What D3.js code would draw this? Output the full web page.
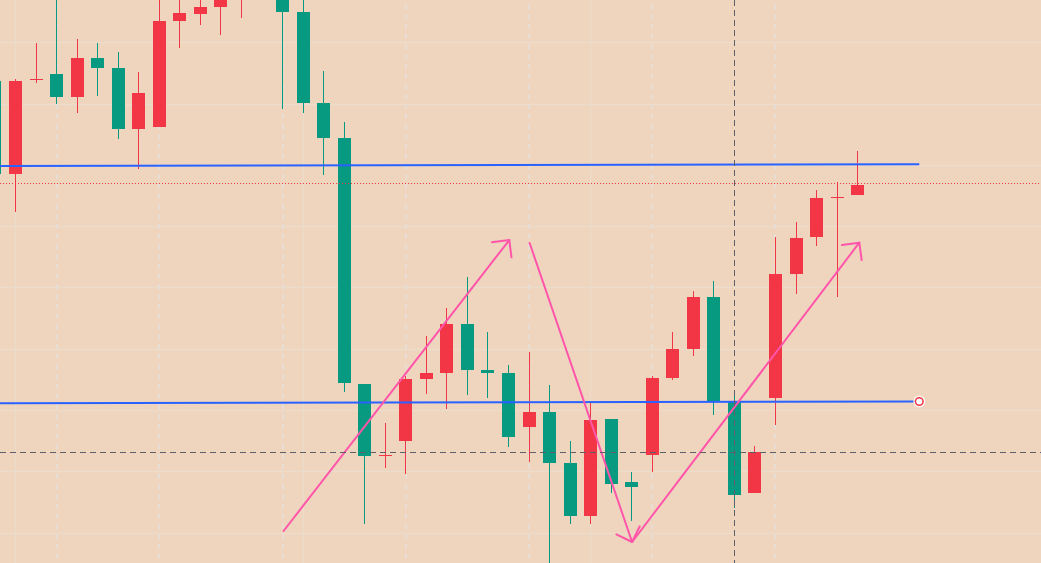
<!DOCTYPE html>
<html lang="en">
<head>
<meta charset="UTF-8">
<title>Candles with d3.js</title>
<script src="https://d3js.org/d3.v7.min.js" charset="utf-8"></script>
<style>
  body { margin: 0; background: #efd5bd; overflow: hidden; }
  svg { display: block; }
</style>
</head>
<body>
<div id="chart"></div>
<script>
// bar index of each candle (bar -1 is cut off at the left edge)
const bars = d3.range(-1, 42);
// prices (scale is inverted, like the original)
const opens  = [158.1, 167.4, 158.0, 157.4, 159.7, 155.8, 156.8, 162.9, 162.7, 152.1, 151.4, 150.7, 149.4, 148.2, 146.5, 151.2, 160.3, 163.8, 188.4, 195.6, 194.1, 187.9, 187.3, 182.4, 187.0, 187.3, 192.7, 191.2, 196.3, 201.6, 191.9, 198.2, 195.5, 187.8, 184.9, 179.7, 190.2, 199.3, 189.8, 177.4, 173.7, 169.8, 169.5];
const highs  = [167.4, 171.2, 158.3, 160.4, 161.3, 159.6, 163.9, 166.9, 162.7, 154.8, 152.5, 153.5, 151.8, 149.0, 160.9, 161.3, 167.5, 189.2, 202.4, 196.8, 197.4, 189.4, 190.9, 189.5, 189.8, 194.7, 196.2, 207.5, 202.4, 202.4, 199.3, 202.1, 197.2, 188.0, 185.6, 191.5, 200.8, 199.3, 192.5, 179.4, 174.6, 179.7, 169.5];
const lows   = [158.1, 157.9, 154.3, 149.0, 153.9, 154.3, 155.2, 157.2, 148.5, 149.0, 149.2, 148.0, 147.0, 144.5, 145.0, 149.5, 157.1, 162.2, 188.4, 192.3, 187.6, 183.6, 180.8, 177.7, 183.2, 186.5, 185.2, 188.5, 194.1, 190.3, 191.9, 197.2, 187.6, 183.2, 179.1, 178.1, 189.2, 194.6, 173.7, 172.2, 169.0, 168.2, 165.1];
const closes = [167.4, 158.1, 157.9, 159.7, 155.8, 156.8, 162.9, 159.3, 152.1, 151.3, 150.7, 149.4, 148.2, 146.0, 151.2, 160.3, 163.8, 188.3, 195.6, 195.5, 187.9, 187.3, 182.4, 187.0, 187.3, 193.7, 191.2, 196.3, 201.6, 192.0, 198.4, 198.7, 187.8, 184.9, 179.7, 190.2, 199.5, 195.2, 177.4, 173.8, 169.8, 169.7, 168.5];

// drawings, in (bar, price)
const arrows = [
  { from: [13.05, 203.1], to: [24.04, 174.0] },
  { from: [25.03, 174.3], to: [30.02, 204.2] },
  { from: [30.02, 204.2], to: [41.08, 174.27] }
];
const hLines = [
  { from: [-2, 166.6], to: [44.0, 166.43], marker: false },
  { from: [-2, 190.32], to: [44.0, 190.15], marker: true }
];
const sessionBreaks = [2, 7, 13, 19, 25, 31, 37];
const gridBars = [0, 14, 28];
const crossBar = 35, crossPrice = 195.23;

const width = 1041, height = 563;
const upColor = "#089981", downColor = "#f23645";

const candles = bars.map((b, k) => ({
  bar: b, open: opens[k], high: highs[k], low: lows[k], close: closes[k]
}));

const x = d3.scaleLinear().domain([-1, 49]).range([-5.04, 1021.96]);
// inverted price scale: larger prices lower down
const y = d3.scaleLinear().domain([150, 206.3]).range([0, height]);
// snap to pixel centre so 1px lines stay sharp
const px = v => Math.floor(v) + 0.5;

const svg = d3.select("#chart").append("svg")
    .attr("width", width)
    .attr("height", height);

svg.append("rect").attr("width", width).attr("height", height).attr("fill", "#efd5bd");

// horizontal grid
const gridTicks = d3.range(154.27, 206.3, 6.13);
svg.append("g")
  .selectAll("line")
  .data(gridTicks)
  .join("line")
    .attr("x1", 0).attr("x2", width)
    .attr("y1", d => px(y(d)))
    .attr("y2", d => px(y(d)))
    .attr("stroke", "#ecdccb")
    .attr("stroke-width", 1.5);

// vertical grid
svg.append("g")
  .selectAll("line")
  .data(gridBars)
  .join("line")
    .attr("x1", d => px(x(d))).attr("x2", d => px(x(d)))
    .attr("y1", 0).attr("y2", height)
    .attr("stroke", "#ecdccb")
    .attr("stroke-width", 1);

// session breaks
svg.append("g")
  .selectAll("line")
  .data(sessionBreaks)
  .join("line")
    .attr("x1", d => Math.round(x(d))).attr("x2", d => Math.round(x(d)))
    .attr("y1", 4).attr("y2", height)
    .attr("stroke", "#e8ddd5")
    .attr("stroke-width", 2)
    .attr("stroke-dasharray", "5,5");

// candles
const col = d => d.close >= d.open ? upColor : downColor;
const cg = svg.append("g");
cg.selectAll("line")
  .data(candles)
  .join("line")
    .attr("x1", d => px(x(d.bar))).attr("x2", d => px(x(d.bar)))
    .attr("y1", d => y(d.low)).attr("y2", d => y(d.high))
    .attr("stroke", col)
    .attr("stroke-width", 1);
cg.selectAll("rect")
  .data(candles)
  .join("rect")
    .attr("x", d => px(x(d.bar)) - 6.5)
    .attr("width", 13)
    .attr("y", d => y(Math.min(d.open, d.close)))
    .attr("height", d => Math.max(1, Math.abs(y(d.open) - y(d.close))))
    .attr("fill", col);

// last price line
const last = candles[candles.length - 1];
svg.append("line")
    .attr("x1", 0).attr("x2", width)
    .attr("y1", px(y(last.close)) - 1)
    .attr("y2", px(y(last.close)) - 1)
    .attr("stroke", downColor)
    .attr("stroke-width", 1)
    .attr("stroke-dasharray", "1,2");

// horizontal rays
svg.append("g")
  .selectAll("line")
  .data(hLines)
  .join("line")
    .attr("x1", d => x(d.from[0])).attr("y1", d => y(d.from[1]))
    .attr("x2", d => x(d.to[0])).attr("y2", d => y(d.to[1]))
    .attr("stroke", "#2962ff")
    .attr("stroke-width", 2);

const mk = svg.append("g")
  .selectAll("g")
  .data(hLines.filter(d => d.marker))
  .join("g")
    .attr("transform", d => `translate(${x(d.to[0])},${y(d.to[1])})`);
mk.append("circle").attr("r", 6).attr("fill", "#ffffff").attr("opacity", 0.8);
mk.append("circle")
    .attr("r", 3.8)
    .attr("fill", "#ffffff")
    .attr("stroke", downColor)
    .attr("stroke-width", 1.5);

// arrows
const pink = "#ff55aa";
const ag = svg.append("g")
    .attr("stroke", pink)
    .attr("stroke-width", 2)
    .attr("stroke-linecap", "round")
    .attr("fill", "none");
arrows.forEach(a => {
  const x1 = x(a.from[0]), y1 = y(a.from[1]);
  const x2 = x(a.to[0]), y2 = y(a.to[1]);
  const ang = Math.atan2(y1 - y2, x1 - x2);
  const len = 17.5, spread = Math.PI / 4;
  ag.append("line").attr("x1", x1).attr("y1", y1).attr("x2", x2).attr("y2", y2);
  [-spread, spread].forEach(s => {
    ag.append("line")
      .attr("x1", x2).attr("y1", y2)
      .attr("x2", x2 + len * Math.cos(ang + s))
      .attr("y2", y2 + len * Math.sin(ang + s));
  });
});

// crosshair
svg.append("line")
    .attr("x1", px(x(crossBar))).attr("x2", px(x(crossBar)))
    .attr("y1", 0).attr("y2", height)
    .attr("stroke", "#5d606b")
    .attr("stroke-width", 1)
    .attr("stroke-dasharray", "6,4");
svg.append("line")
    .attr("x1", 0).attr("x2", width)
    .attr("y1", px(y(crossPrice)))
    .attr("y2", px(y(crossPrice)))
    .attr("stroke", "#5d606b")
    .attr("stroke-width", 1)
    .attr("stroke-dasharray", "6,4");
</script>
</body>
</html>
